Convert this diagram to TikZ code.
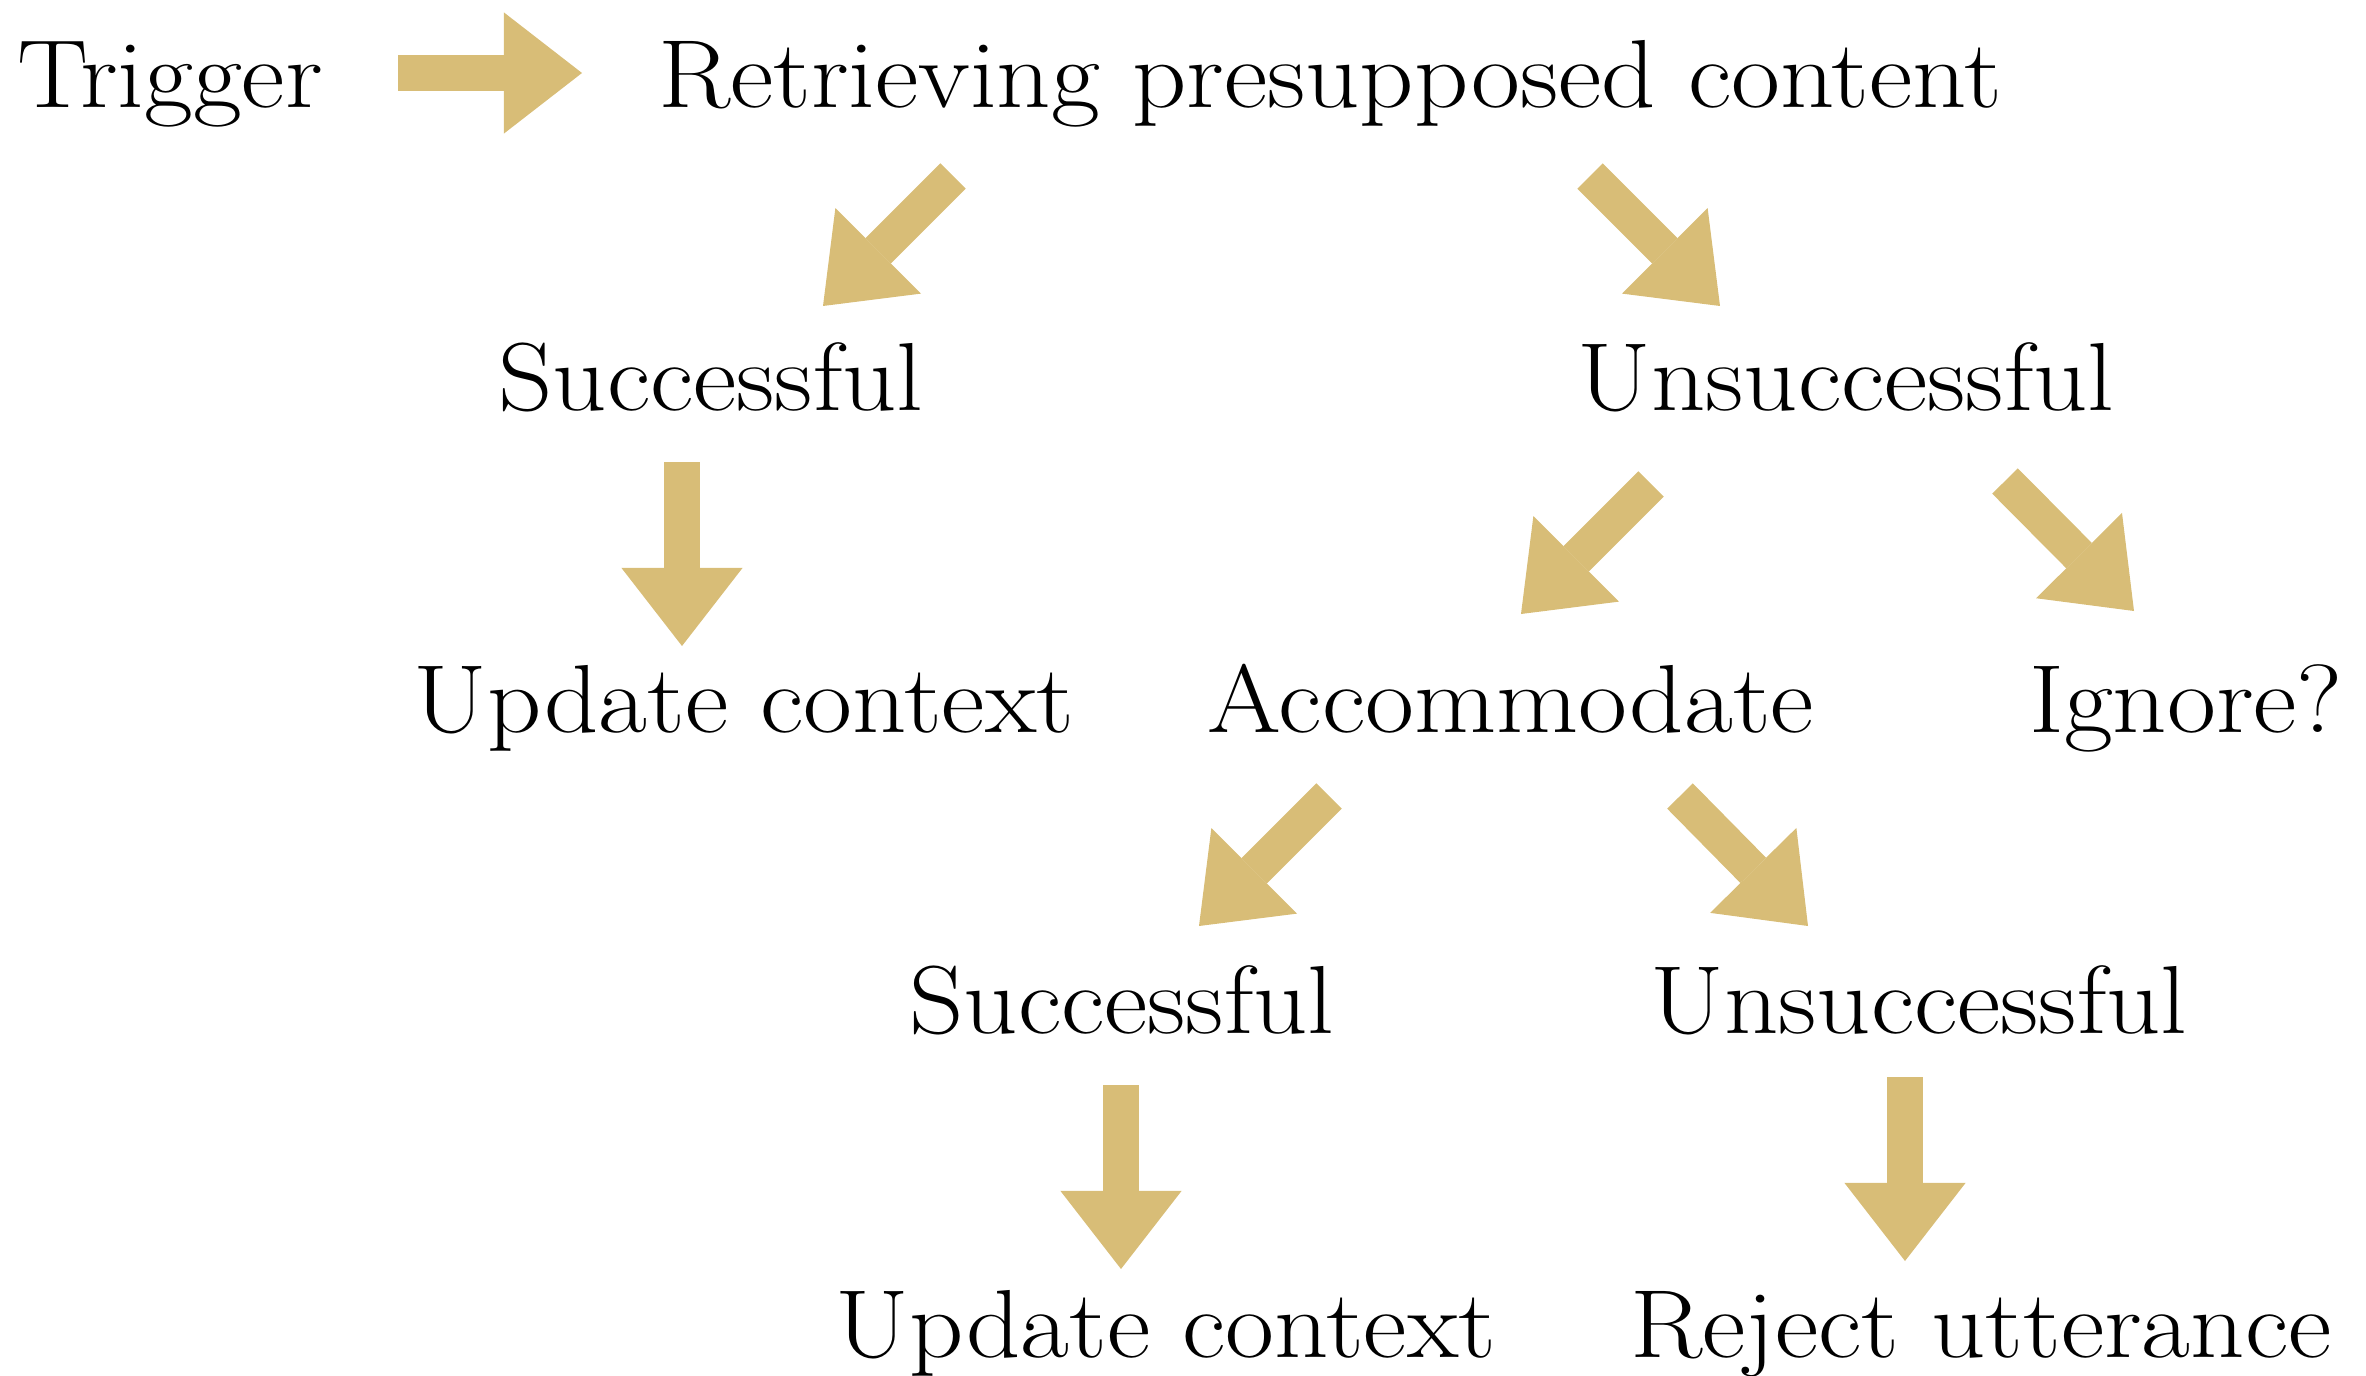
\documentclass[tikz,border=0pt]{standalone}
\usepackage{fontspec}
\setmainfont{Latin Modern Roman}[FakeStretch=1.1]
\usepackage{xcolor}
\usetikzlibrary{arrows.meta}
\definecolor{arrowgold}{RGB}{216,189,119}

\begin{document}
\begin{tikzpicture}[
        x=0.01cm, y=-0.01cm,
        term/.style={anchor=base, inner sep=0pt, font=\fontsize{27.5}{33}\selectfont},
        bigarrow/.style={draw=arrowgold, line width=0.36cm, -{Triangle[length=0.78cm, width=1.21cm, line width=0pt]}}
    ]
        \useasboundingbox (0,0) rectangle (2366,1376);

        % Trigger and retrieval
        \node[term] (trigger) at (170,108) {Trigger};
        \node[term] (retrieve) at (1330,108) {Retrieving presupposed content};

        % First outcome
        \node[term] (succ) at (711,410) {Successful};
        \node[term] (unsucc) at (1846,410) {Unsuccessful};

        \node[term] (update) at (744,732) {Update context};
        \node[term] (accom) at (1511,732) {Accommodate};
        \node[term] (ignore) at (2186,732) {Ignore?};

        % After accommodation
        \node[term] (accsucc) at (1122,1033) {Successful};
        \node[term] (accunsucc) at (1919,1033) {Unsuccessful};

        \node[term] (accupdate) at (1166,1357) {Update context};
        \node[term] (reject) at (1981,1357) {Reject utterance};

        % Arrow ends
        \coordinate (a0s) at (398,73);    \coordinate (a0e) at (582,73);
        \coordinate (a1s) at (953,176);   \coordinate (a1e) at (823,306);
        \coordinate (a2s) at (1590,176);  \coordinate (a2e) at (1720,306);
        \coordinate (a3s) at (682,462);   \coordinate (a3e) at (682,646);
        \coordinate (a4s) at (1651,484);  \coordinate (a4e) at (1521,614);
        \coordinate (a5s) at (2005,481);  \coordinate (a5e) at (2134,611);
        \coordinate (a6s) at (1329,796);  \coordinate (a6e) at (1199,926);
        \coordinate (a7s) at (1680,796);  \coordinate (a7e) at (1808,926);
        \coordinate (a8s) at (1121,1085); \coordinate (a8e) at (1121,1269);
        \coordinate (a9s) at (1905,1077); \coordinate (a9e) at (1905,1261);

        % Arrows
        \draw[bigarrow] (a0s) -- (a0e);
        \draw[bigarrow] (a1s) -- (a1e);
        \draw[bigarrow] (a2s) -- (a2e);
        \draw[bigarrow] (a3s) -- (a3e);
        \draw[bigarrow] (a4s) -- (a4e);
        \draw[bigarrow] (a5s) -- (a5e);
        \draw[bigarrow] (a6s) -- (a6e);
        \draw[bigarrow] (a7s) -- (a7e);
        \draw[bigarrow] (a8s) -- (a8e);
        \draw[bigarrow] (a9s) -- (a9e);
    \end{tikzpicture}
\end{document}
